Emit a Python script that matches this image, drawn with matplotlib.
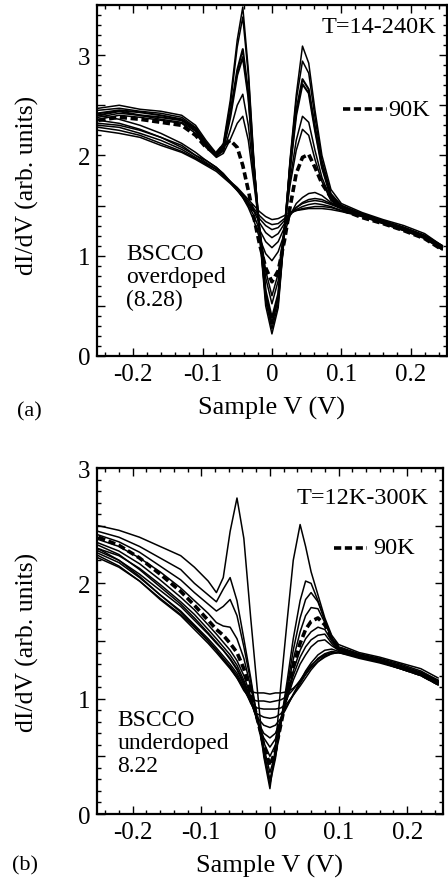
import matplotlib
matplotlib.use('Agg')
import matplotlib.pyplot as plt
from matplotlib.ticker import MultipleLocator, FuncFormatter

plt.rcParams['font.family'] = ['Liberation Serif', 'DejaVu Serif']
plt.rcParams['axes.unicode_minus'] = False

# ---------- panel (a): overdoped BSCCO, T = 14-240 K ----------
volt_a = [-0.25, -0.22, -0.19, -0.16, -0.13, -0.11, -0.095, -0.08, -0.07, -0.06, -0.05,
          -0.042, -0.034, -0.026, -0.018, -0.009, 0.0, 0.009, 0.018, 0.026, 0.035, 0.044,
          0.053, 0.062, 0.072, 0.085, 0.10, 0.13, 0.16, 0.19, 0.22, 0.245]

# curves below Tc (deep gap, coherence peaks)
a_14K = [2.47, 2.50, 2.46, 2.44, 2.40, 2.30, 2.15, 2.02, 2.12, 2.55, 3.15, 3.48, 2.85, 1.95, 1.22, 0.50,
         0.22, 0.48, 1.22, 1.95, 2.60, 3.09, 2.92, 2.45, 2.00, 1.66, 1.52, 1.43, 1.36, 1.30, 1.22, 1.10]
a_c2 = [2.45, 2.47, 2.44, 2.42, 2.38, 2.28, 2.13, 2.01, 2.10, 2.50, 3.08, 3.38, 2.80, 1.93, 1.24, 0.55,
        0.27, 0.52, 1.22, 1.93, 2.55, 2.94, 2.82, 2.38, 1.95, 1.62, 1.50, 1.42, 1.35, 1.28, 1.20, 1.08]
a_c3 = [2.42, 2.45, 2.43, 2.40, 2.36, 2.27, 2.12, 2.00, 2.08, 2.42, 2.85, 3.06, 2.62, 1.88, 1.25, 0.60,
        0.32, 0.58, 1.24, 1.88, 2.45, 2.76, 2.66, 2.28, 1.90, 1.60, 1.50, 1.41, 1.34, 1.28, 1.20, 1.10]
a_c4 = [2.40, 2.44, 2.40, 2.38, 2.35, 2.25, 2.10, 1.99, 2.06, 2.38, 2.80, 2.98, 2.58, 1.88, 1.27, 0.65,
        0.38, 0.62, 1.26, 1.86, 2.40, 2.71, 2.62, 2.25, 1.88, 1.58, 1.48, 1.40, 1.33, 1.27, 1.19, 1.08]
a_c5 = [2.38, 2.42, 2.40, 2.36, 2.33, 2.24, 2.10, 2.00, 2.04, 2.25, 2.50, 2.61, 2.30, 1.78, 1.28, 0.78,
        0.52, 0.75, 1.27, 1.75, 2.15, 2.39, 2.33, 2.05, 1.78, 1.56, 1.48, 1.40, 1.33, 1.26, 1.18, 1.06]
a_c6 = [2.36, 2.40, 2.38, 2.35, 2.32, 2.22, 2.08, 1.98, 2.02, 2.16, 2.32, 2.39, 2.15, 1.72, 1.28, 0.85,
        0.60, 0.82, 1.28, 1.70, 2.05, 2.26, 2.20, 1.96, 1.74, 1.55, 1.47, 1.40, 1.32, 1.25, 1.18, 1.08]
a_90K = [2.35, 2.38, 2.36, 2.33, 2.30, 2.20, 2.08, 2.02, 2.10, 2.15, 2.08, 1.90, 1.65, 1.38, 1.12, 0.88,
         0.74, 0.85, 1.15, 1.48, 1.82, 1.98, 2.01, 1.88, 1.72, 1.58, 1.46, 1.38, 1.32, 1.25, 1.17, 1.06]
# curves above Tc
a_c8 = [2.32, 2.30, 2.25, 2.18, 2.10, 2.00, 1.95, 1.88, 1.82, 1.74, 1.66, 1.58, 1.48, 1.35, 1.18, 1.02,
        0.95, 1.04, 1.22, 1.40, 1.52, 1.58, 1.62, 1.63, 1.60, 1.53, 1.48, 1.42, 1.35, 1.28, 1.20, 1.10]
a_c9 = [2.30, 2.28, 2.22, 2.15, 2.06, 1.98, 1.92, 1.86, 1.80, 1.73, 1.65, 1.58, 1.50, 1.40, 1.26, 1.14,
        1.08, 1.14, 1.28, 1.40, 1.48, 1.53, 1.56, 1.57, 1.56, 1.52, 1.47, 1.41, 1.34, 1.27, 1.19, 1.08]
a_c10 = [2.35, 2.32, 2.26, 2.18, 2.08, 2.00, 1.93, 1.86, 1.80, 1.73, 1.66, 1.59, 1.52, 1.44, 1.33, 1.23,
         1.18, 1.22, 1.32, 1.42, 1.48, 1.52, 1.54, 1.55, 1.54, 1.51, 1.47, 1.40, 1.33, 1.26, 1.18, 1.07]
a_c11 = [2.25, 2.22, 2.18, 2.10, 2.03, 1.96, 1.90, 1.84, 1.78, 1.72, 1.65, 1.59, 1.52, 1.45, 1.37, 1.30,
         1.26, 1.28, 1.35, 1.42, 1.46, 1.49, 1.51, 1.52, 1.51, 1.49, 1.45, 1.39, 1.32, 1.25, 1.17, 1.06]
a_c12 = [2.40, 2.36, 2.30, 2.22, 2.12, 2.03, 1.95, 1.88, 1.81, 1.74, 1.67, 1.61, 1.54, 1.47, 1.40, 1.34,
         1.31, 1.32, 1.37, 1.42, 1.45, 1.47, 1.48, 1.49, 1.49, 1.48, 1.45, 1.40, 1.34, 1.28, 1.20, 1.09]
a_240K = [2.28, 2.25, 2.20, 2.12, 2.04, 1.97, 1.91, 1.86, 1.80, 1.74, 1.68, 1.62, 1.56, 1.50, 1.44, 1.39,
          1.36, 1.37, 1.40, 1.43, 1.45, 1.46, 1.47, 1.47, 1.47, 1.46, 1.44, 1.39, 1.33, 1.27, 1.19, 1.08]

curves_a = [a_14K, a_c2, a_c3, a_c4, a_c5, a_c6, a_c8, a_c9, a_c10, a_c11, a_c12, a_240K]

# ---------- panel (b): underdoped BSCCO, T = 12-300 K ----------
volt_b = [-0.25, -0.22, -0.19, -0.16, -0.13, -0.11, -0.09, -0.078, -0.068, -0.058, -0.048,
          -0.038, -0.028, -0.019, -0.009, 0.0, 0.008, 0.016, 0.025, 0.034, 0.044, 0.052,
          0.06, 0.07, 0.08, 0.09, 0.10, 0.13, 0.16, 0.19, 0.22, 0.245]

b_12K = [2.50, 2.46, 2.40, 2.32, 2.24, 2.14, 2.02, 1.92, 2.05, 2.45, 2.74, 2.39, 1.70, 1.12, 0.50, 0.22,
         0.58, 1.12, 1.67, 2.20, 2.51, 2.32, 2.10, 1.90, 1.70, 1.55, 1.47, 1.40, 1.36, 1.31, 1.26, 1.18]
b_c2 = [2.45, 2.40, 2.32, 2.22, 2.12, 2.00, 1.90, 1.84, 1.95, 2.05, 1.85, 1.52, 1.18, 0.85, 0.52, 0.26,
        0.48, 0.80, 1.15, 1.52, 1.85, 2.02, 2.00, 1.85, 1.68, 1.53, 1.45, 1.39, 1.35, 1.30, 1.24, 1.16]
b_c3 = [2.42, 2.36, 2.27, 2.15, 2.03, 1.92, 1.82, 1.76, 1.80, 1.86, 1.72, 1.45, 1.15, 0.85, 0.55, 0.30,
        0.50, 0.78, 1.10, 1.42, 1.70, 1.86, 1.92, 1.84, 1.68, 1.52, 1.44, 1.38, 1.33, 1.28, 1.22, 1.14]
b_c4 = [2.38, 2.32, 2.22, 2.10, 1.96, 1.85, 1.74, 1.66, 1.63, 1.62, 1.52, 1.35, 1.10, 0.85, 0.58, 0.36,
        0.52, 0.78, 1.06, 1.34, 1.58, 1.72, 1.79, 1.78, 1.66, 1.52, 1.44, 1.38, 1.34, 1.28, 1.22, 1.15]
b_90K = [2.40, 2.33, 2.22, 2.08, 1.93, 1.81, 1.68, 1.60, 1.55, 1.48, 1.40, 1.26, 1.06, 0.84, 0.60, 0.42,
         0.55, 0.78, 1.04, 1.28, 1.48, 1.60, 1.67, 1.70, 1.64, 1.52, 1.44, 1.37, 1.33, 1.27, 1.21, 1.13]
b_c6 = [2.35, 2.28, 2.17, 2.03, 1.88, 1.77, 1.64, 1.56, 1.49, 1.42, 1.33, 1.20, 1.02, 0.82, 0.62, 0.50,
        0.60, 0.80, 1.03, 1.24, 1.42, 1.52, 1.58, 1.62, 1.60, 1.50, 1.43, 1.37, 1.32, 1.26, 1.21, 1.14]
b_c7 = [2.30, 2.24, 2.13, 1.99, 1.84, 1.73, 1.60, 1.52, 1.45, 1.38, 1.29, 1.16, 1.00, 0.82, 0.66, 0.58,
        0.65, 0.82, 1.02, 1.20, 1.36, 1.45, 1.51, 1.55, 1.56, 1.48, 1.42, 1.36, 1.32, 1.26, 1.20, 1.12]
b_c8 = [2.28, 2.20, 2.08, 1.94, 1.80, 1.68, 1.56, 1.48, 1.42, 1.35, 1.26, 1.14, 0.98, 0.82, 0.70, 0.66,
        0.70, 0.82, 1.00, 1.16, 1.30, 1.38, 1.45, 1.50, 1.51, 1.46, 1.42, 1.37, 1.33, 1.27, 1.21, 1.13]
b_c9 = [2.33, 2.25, 2.12, 1.97, 1.82, 1.70, 1.57, 1.49, 1.42, 1.34, 1.25, 1.12, 0.97, 0.84, 0.77, 0.75,
        0.77, 0.83, 0.93, 1.04, 1.15, 1.24, 1.31, 1.38, 1.42, 1.43, 1.41, 1.36, 1.32, 1.27, 1.21, 1.14]
b_c10 = [2.26, 2.18, 2.05, 1.90, 1.76, 1.64, 1.52, 1.44, 1.37, 1.30, 1.22, 1.10, 0.96, 0.87, 0.84, 0.83,
         0.84, 0.87, 0.94, 1.03, 1.13, 1.21, 1.28, 1.35, 1.39, 1.41, 1.40, 1.35, 1.31, 1.26, 1.20, 1.12]
b_c11 = [2.22, 2.14, 2.02, 1.87, 1.73, 1.62, 1.50, 1.42, 1.35, 1.28, 1.20, 1.08, 0.97, 0.92, 0.91, 0.91,
         0.91, 0.92, 0.96, 1.03, 1.11, 1.18, 1.25, 1.32, 1.37, 1.39, 1.40, 1.36, 1.32, 1.27, 1.21, 1.14]
b_c12 = [2.30, 2.20, 2.06, 1.90, 1.75, 1.63, 1.50, 1.42, 1.34, 1.27, 1.18, 1.07, 1.00, 0.98, 0.98, 0.97,
         0.98, 0.99, 1.02, 1.08, 1.16, 1.23, 1.29, 1.34, 1.38, 1.40, 1.40, 1.37, 1.33, 1.28, 1.22, 1.15]
b_300K = [2.24, 2.15, 2.02, 1.86, 1.72, 1.60, 1.48, 1.40, 1.33, 1.26, 1.18, 1.09, 1.06, 1.05, 1.05, 1.04,
          1.05, 1.05, 1.06, 1.09, 1.15, 1.21, 1.27, 1.32, 1.36, 1.39, 1.40, 1.38, 1.34, 1.29, 1.23, 1.16]

curves_b = [b_12K, b_c2, b_c3, b_c4, b_c6, b_c7, b_c8, b_c9, b_c10, b_c11, b_c12, b_300K]

x_ticks = [-0.2, -0.1, 0.0, 0.1, 0.2]


def fmt_x(v, pos):  # 0 без десятичной точки
    return '0' if abs(v) < 1e-9 else '%.1f' % v


def fmt_y(v, pos):  # подписи только на целых значениях
    return '%d' % round(v) if abs(v - round(v)) < 1e-6 else ''


def style_axes(ax, ymax):
    ax.set_xlim(-0.252, 0.252)
    ax.set_ylim(0, ymax)
    ax.set_xticks(x_ticks)
    ax.xaxis.set_major_formatter(FuncFormatter(fmt_x))
    ax.xaxis.set_minor_locator(MultipleLocator(0.02))
    ax.yaxis.set_major_locator(MultipleLocator(0.5))
    ax.yaxis.set_major_formatter(FuncFormatter(fmt_y))
    ax.yaxis.set_minor_locator(MultipleLocator(0.1))
    ax.tick_params(which='both', direction='in', top=True, right=True, labelsize=18, width=1.0)
    ax.tick_params(which='major', length=6, pad=5)
    ax.tick_params(which='minor', length=3)
    for s in ax.spines.values():
        s.set_linewidth(1.6)
    ax.set_xlabel('Sample V (V)', fontsize=19, labelpad=8)
    ax.set_ylabel('dI/dV (arb. units)', fontsize=18.5)
    ax.yaxis.set_label_coords(-0.165, 0.49)


fig = plt.figure(figsize=(4.48, 8.79), dpi=100)
ax1 = fig.add_axes([0.2165, 0.5939, 0.781, 0.3993])
ax2 = fig.add_axes([0.2165, 0.0728, 0.772, 0.3936])

# (a)
for i, c in enumerate(curves_a):
    ax1.plot(volt_a, c, color='black', lw=1.5 if i in (2, 3) else 1.1)
ax1.plot(volt_a, a_90K, color='black', lw=2.6, linestyle=(0, (2.0, 1.0)))
style_axes(ax1, 3.5)
ax1.text(0.97, 0.94, 'T=14-240K', transform=ax1.transAxes, fontsize=17.5, ha='right', va='center')
ax1.plot([0.102, 0.166], [2.46, 2.46], color='black', lw=2.6, linestyle=(0, (2.0, 1.0)))
ax1.text(0.168, 2.46, '90K', fontsize=17.5, ha='left', va='center')
ax1.text(-0.21, 0.79, 'BSCCO\noverdoped\n(8.28)', fontsize=17, ha='left', va='center', linespacing=1.12)
fig.text(0.038, 1 - 412 / 879, '(a)', fontsize=16, ha='left', va='center')

# (b)
for i, c in enumerate(curves_b):
    ax2.plot(volt_b, c, color='black', lw=1.1)
ax2.plot(volt_b, b_90K, color='black', lw=2.6, linestyle=(0, (2.0, 1.0)))
style_axes(ax2, 3.0)
ax2.yaxis.set_label_coords(-0.167, 0.5)
ax2.text(0.96, 0.915, 'T=12K-300K', transform=ax2.transAxes, fontsize=17.5, ha='right', va='center')
ax2.plot([0.093, 0.141], [2.31, 2.31], color='black', lw=2.6, linestyle=(0, (2.0, 1.0)))
ax2.text(0.151, 2.31, '90K', fontsize=17.5, ha='left', va='center')
ax2.text(-0.222, 0.62, 'BSCCO\nunderdoped\n8.22', fontsize=17, ha='left', va='center', linespacing=1.12)
fig.text(0.027, 1 - 866 / 879, '(b)', fontsize=16, ha='left', va='center')

fig.savefig('out.png', dpi=100)
